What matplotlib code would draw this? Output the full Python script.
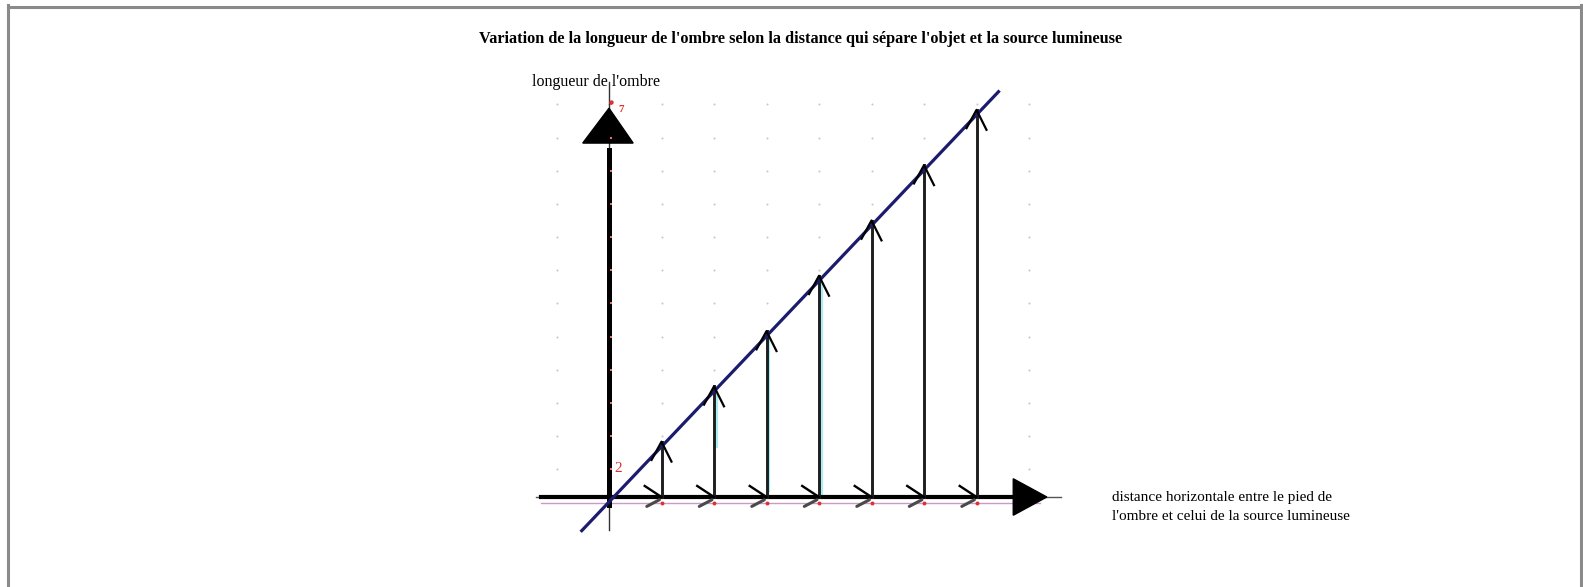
import numpy as np
import matplotlib
matplotlib.use('Agg')
import matplotlib.pyplot as plt
from matplotlib.patches import Polygon

# distance (in steps) between the foot of the object and the light source
distance = [1, 2, 3, 4, 5, 6, 7]
# length of the shadow for each distance
ombre = [1, 2, 3, 4, 5, 6, 7]

title = "Variation de la longueur de l'ombre selon la distance qui sépare l'objet et la source lumineuse"
ylabel = "longueur de l'ombre"
xlabel = "distance horizontale entre le pied de\nl'ombre et celui de la source lumineuse"

W, H = 1583, 587
x0_px, y0_px = 609, 497     # origin in pixels
ux, uy = 52.5, 55.3         # pixels per unit

fig = plt.figure(figsize=(W / 100, H / 100), dpi=100)
ax = fig.add_axes([0, 0, 1, 1])
ax.set_xlim(-x0_px / ux, (W - x0_px) / ux)
ax.set_ylim(-(H - y0_px) / uy, y0_px / uy)
ax.axis('off')

serif = ['Liberation Serif', 'DejaVu Serif']

# page frame
fr = dict(transform=fig.transFigure, color='#8a8a8a', lw=2.2)
ax.plot([7.5 / W, 7.5 / W], [0, 1 - 5 / H], **fr)
ax.plot([7.5 / W, 1 - 2 / W], [1 - 6.5 / H, 1 - 6.5 / H], **fr)
ax.plot([1 - 2 / W, 1 - 2 / W], [0, 1 - 5 / H], **fr)

# dotted grid
gx = np.arange(-1, 9)
gy = 0.5 + 0.6 * np.arange(12)
GX, GY = np.meshgrid(gx, gy)
ax.scatter(GX.ravel(), GY.ravel(), s=2.2, c='#c8c8c8', lw=0, zorder=1)

# pink base line with red points
ax.plot([-1.3, 8.2], [-0.11, -0.11], color='#c99bc9', lw=1.0, zorder=2)
ax.scatter(distance, [-0.11] * len(distance), s=8, c='#e03030', lw=0, zorder=3)

# red ticks on the vertical axis
ax.scatter([0.03] * len(gy), gy, s=2.5, c='#ee7070', marker='s', lw=0, zorder=6)
ax.text(0.1, 0.52, '2', color='#e03030', fontsize=11, family=serif, va='center')
ax.text(0.17, 7.0, '7', color='#e03030', fontsize=8, family=serif,
        va='center', fontweight='bold')
ax.scatter([0.03], [7.15], s=10, c='#e03030', lw=0, zorder=6)

# vertical axis
ax.plot([0, 0], [-0.6, 7.5], color='#333333', lw=1.0, zorder=4)
ax.plot([0, 0], [-0.15, 6.27], color='black', lw=3.6, zorder=5)
ax.add_patch(Polygon([[0, 7.03], [-0.5, 6.40], [0.46, 6.40]], closed=True,
                     fc='black', ec='black', zorder=5))

# horizontal axis
ax.plot([-1.4, 8.6], [0.0, 0.0], color='#555555', lw=1.0, zorder=4)
ax.plot([-1.3, 7.75], [0.0, 0.0], color='black', lw=3.0, zorder=5)
ax.add_patch(Polygon([[8.34, 0.0], [7.70, 0.33], [7.70, -0.33]], closed=True,
                     fc='black', ec='black', zorder=5))

# light cyan guides next to some of the objects
for d, lo, hi in [(2, 0.9, 1.9), (3, 0.1, 2.9), (4, 0.0, 3.85)]:
    ax.plot([d + 0.05, d + 0.05], [lo, hi], color='#a8eef4', lw=1.6, zorder=3)

# line through the tops of the shadows
lx = np.array([-0.54, 7.44])
slope = ombre[-1] / distance[-1]
ax.plot(lx, slope * lx - 0.09, color='#1c1c6e', lw=2.3, zorder=7,
        solid_capstyle='butt')

# objects (vertical arrows) and their feet (small chevrons on the axis)
for d, h in zip(distance, ombre):
    ax.plot([d, d], [0, h], color='#1e1e1e', lw=2.1, zorder=6)
    ax.plot([d - 0.19, d, d + 0.19], [h - 0.33, h, h - 0.36],
            color='black', lw=1.6, zorder=8)
    ax.plot([d - 0.32, d], [0.2, 0.0], color='black', lw=1.7, zorder=8)
    ax.plot([d - 0.28, d - 0.04], [-0.17, -0.05], color='#4a4a4a', lw=2.2,
            zorder=8, solid_capstyle='round')

# texts
ax.text((801 - x0_px) / ux, (y0_px - 39) / uy, title, family=serif,
        fontsize=11.7, fontweight='bold', ha='center', va='center')
ax.text((532 - x0_px) / ux, (y0_px - 82) / uy, ylabel, family=serif,
        fontsize=11.5, ha='left', va='center')
ax.text((1112 - x0_px) / ux, (y0_px - 507) / uy, xlabel, family=serif,
        fontsize=11, ha='left', va='center', linespacing=1.5)

fig.savefig('out.png', dpi=100, facecolor='white')
